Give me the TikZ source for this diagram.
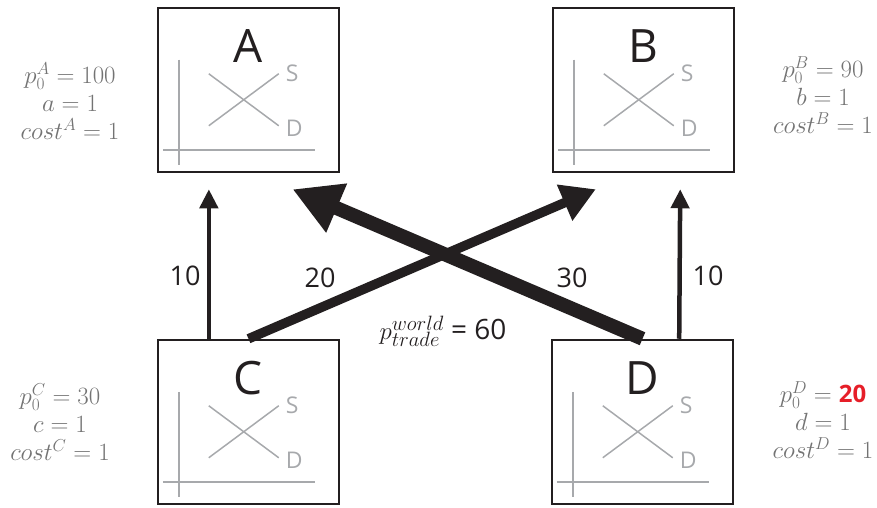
\documentclass[tikz,border=0pt]{standalone}
\usepackage{fontspec}
\setmainfont{Open Sans}
\usetikzlibrary{arrows.meta,calc}
\definecolor{trdark}{RGB}{35,31,32}
\definecolor{trgrey}{RGB}{167,169,172}
\definecolor{trtext}{RGB}{115,115,115}
\definecolor{trred}{RGB}{230,30,40}
\def\trPanel#1#2{%
  \begin{scope}[shift={(#1.north west)}]
    \draw[traxis] (22,-53) -- (22,-158);
    \draw[traxis] (6,-143) -- (158,-143);
    \draw[traxis] (52,-67) -- (122,-119);
    \draw[traxis] (52,-119) -- (122,-67);
    \node[trsd]  (#1s) at (129,-67)  {S};
    \node[trsd]  (#1d) at (129,-122) {D};
    \node[trltr] (#1l) at (91.5,-56) {#2};
  \end{scope}}
\def\trAt#1#2{($(#1.south west)!#2!(#1.south east)+(0,-16)$)}
\def\trTop#1#2{($(#1.north west)!#2!(#1.north east)$)}

\begin{document}
\begin{tikzpicture}[
    x=1pt, y=1pt,
    trbox/.style  = {draw=trdark, line width=2.5pt, minimum width=181pt,
                     minimum height=164pt, inner sep=0pt},
    traxis/.style = {trgrey, line width=1.5pt},
    trsd/.style   = {font=\fontsize{23}{23}\selectfont, text=trgrey,
                     anchor=west, inner sep=0pt},
    trltr/.style  = {font=\fontsize{46}{46}\selectfont, text=trdark,
                     anchor=base, inner sep=0pt},
    trinfo/.style = {font=\fontsize{24}{28}\selectfont, text=trtext,
                     align=center, inner sep=0pt},
    trnum/.style  = {font=\fontsize{27}{27}\selectfont, text=trdark,
                     inner sep=0pt},
    trthin/.style = {trdark, line width=4.5pt,
                     -{Triangle[length=19pt,width=18pt]}},
    trmid/.style  = {trdark, line width=9.5pt,
                     -{Triangle[length=34pt,width=37pt]}},
    trfat/.style  = {trdark, line width=14pt,
                     -{Triangle[length=48pt,width=50pt]}}]

  \useasboundingbox (0,0) rectangle (877,507);

  %% ---- markets -----------------------------------------------------
  \node[trbox] (A) at (248.5,417) {};
  \node[trbox] (B) at (643.5,417) {};
  \node[trbox] (C) at (248.5,85)  {};
  \node[trbox] (D) at (642.5,85)  {};
  \trPanel{A}{A}
  \trPanel{B}{B}
  \trPanel{C}{C}
  \trPanel{D}{D}

  %% ---- parameters --------------------------------------------------
  \node[trinfo] (Ainfo) at (70,406)
    {$p_0^A=100$\\ $a=1$\\ $cost^A=1$};
  \node[trinfo] (Binfo) at (823,412)
    {$p_0^B=90$\\ $b=1$\\ $cost^B=1$};
  \node[trinfo] (Cinfo) at (60,85)
    {$p_0^C=30$\\ $c=1$\\ $cost^C=1$};
  \node[trinfo] (Dinfo) at (823,87)
    {$p_0^D=\textcolor{trred}{\mathbf{20}}$\\ $d=1$\\ $cost^D=1$};

  %% ---- trade flows -------------------------------------------------
  \draw[trthin] \trTop{C}{0.284} -- \trAt{A}{0.284};
  \draw[trthin] \trTop{D}{0.70}  -- \trAt{B}{0.70};
  \draw[trmid]  (C.north) -- \trAt{B}{0.24};
  \draw[trfat]  (D.north) -- \trAt{A}{0.74};

  \node[trnum] (fAC) at (185,231) {10};
  \node[trnum] (fBC) at (320,229) {20};
  \node[trnum] (fAD) at (572,229) {30};
  \node[trnum] (fBD) at (708,231) {10};
  \node[trnum] (pw)  at (443,176)
    {\fontsize{28}{28}\selectfont$p_{trade}^{world}$ = 60};
\end{tikzpicture}
\end{document}
